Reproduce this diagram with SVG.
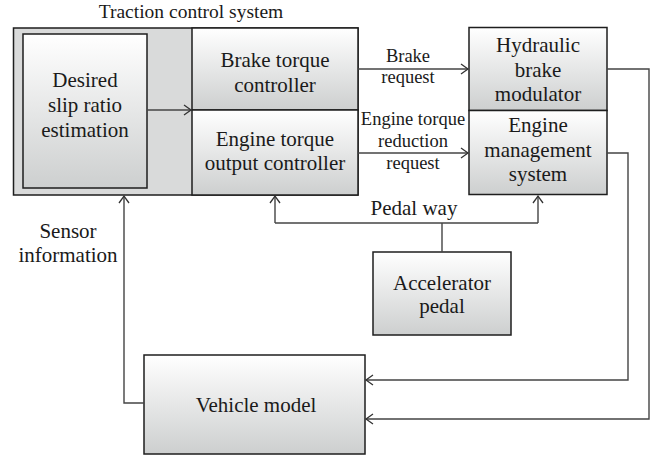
<svg xmlns="http://www.w3.org/2000/svg" width="664" height="458" viewBox="0 0 664 458">
  <defs>
    <linearGradient id="g" x1="0" y1="0" x2="0" y2="1">
      <stop offset="0" stop-color="#ffffff"/>
      <stop offset="1" stop-color="#cdcfcf"/>
    </linearGradient>
    <marker id="ah" markerUnits="userSpaceOnUse" markerWidth="10" markerHeight="12" viewBox="0 0 10 12" refX="8" refY="6" orient="auto">
      <path d="M1,1 L8,6 L1,11" fill="none" stroke="#333" stroke-width="1.3"/>
    </marker>
    <style>
      .box { fill: url(#g); stroke: #1e1e1e; stroke-width: 1.5; }
      .frame { fill: #d9dada; stroke: #1e1e1e; stroke-width: 1.5; }
      .t { font-family: "Liberation Serif", "Times New Roman", serif; font-size: 21px; fill: #1a1a1a; text-anchor: middle; }
      .s { font-family: "Liberation Serif", "Times New Roman", serif; font-size: 18.5px; fill: #1a1a1a; text-anchor: middle; }
      .c { fill: none; stroke: #444; stroke-width: 1.4; }
    </style>
  </defs>
  <rect width="664" height="458" fill="#ffffff"/>

  <g id="tcs">
    <rect class="frame" x="13.5" y="28" width="344.5" height="167"/>
    <text class="t" x="191" y="18" style="font-size:19.5px">Traction control system</text>
  </g>
  <g id="desired">
    <rect class="box" x="23" y="34" width="124" height="154"/>
    <text class="t" x="85" y="87">Desired</text>
    <text class="t" x="85" y="112">slip ratio</text>
    <text class="t" x="85" y="137">estimation</text>
  </g>
  <g id="brake-ctrl">
    <rect class="box" x="192" y="28" width="166" height="82"/>
    <text class="t" x="275" y="67">Brake torque</text>
    <text class="t" x="275" y="92">controller</text>
  </g>
  <g id="engine-ctrl">
    <rect class="box" x="192" y="110" width="166" height="85"/>
    <text class="t" x="275" y="146">Engine torque</text>
    <text class="t" x="275" y="170">output controller</text>
  </g>
  <g id="hydraulic">
    <rect class="box" x="469" y="27.5" width="138" height="83"/>
    <text class="t" x="538" y="52">Hydraulic</text>
    <text class="t" x="538" y="77">brake</text>
    <text class="t" x="538" y="101">modulator</text>
  </g>
  <g id="ems">
    <rect class="box" x="469" y="110.5" width="138" height="84"/>
    <text class="t" x="538" y="132">Engine</text>
    <text class="t" x="538" y="157">management</text>
    <text class="t" x="538" y="181">system</text>
  </g>
  <g id="accelerator">
    <rect class="box" x="373" y="252" width="138" height="83"/>
    <text class="t" x="442" y="290">Accelerator</text>
    <text class="t" x="442" y="313">pedal</text>
  </g>
  <g id="vehicle">
    <rect class="box" x="144" y="355" width="221" height="99"/>
    <text class="t" x="256" y="412">Vehicle model</text>
  </g>

  <g id="connectors">
    <line class="c" x1="147" y1="110" x2="191" y2="110" marker-end="url(#ah)"/>
    <line class="c" x1="358" y1="69" x2="468" y2="69" marker-end="url(#ah)"/>
    <line class="c" x1="358" y1="153" x2="468" y2="153" marker-end="url(#ah)"/>
    <polyline class="c" points="607,69 649,69 649,419 366,419" marker-end="url(#ah)"/>
    <polyline class="c" points="607,153 628,153 628,380 366,380" marker-end="url(#ah)"/>
    <line class="c" x1="442" y1="252" x2="442" y2="223"/>
    <polyline class="c" points="275,223 275,196" marker-end="url(#ah)"/>
    <line class="c" x1="275" y1="223" x2="538" y2="223"/>
    <polyline class="c" points="538,223 538,196" marker-end="url(#ah)"/>
    <polyline class="c" points="144,403 124,403 124,196" marker-end="url(#ah)"/>
  </g>

  <g id="labels">
    <text class="s" x="408" y="62">Brake</text>
    <text class="s" x="408" y="83">request</text>
    <text class="s" x="413" y="125">Engine torque</text>
    <text class="s" x="413" y="147">reduction</text>
    <text class="s" x="413" y="169">request</text>
    <text class="t" x="414" y="215">Pedal way</text>
    <text class="t" x="68" y="238">Sensor</text>
    <text class="t" x="68" y="262">information</text>
  </g>
</svg>
